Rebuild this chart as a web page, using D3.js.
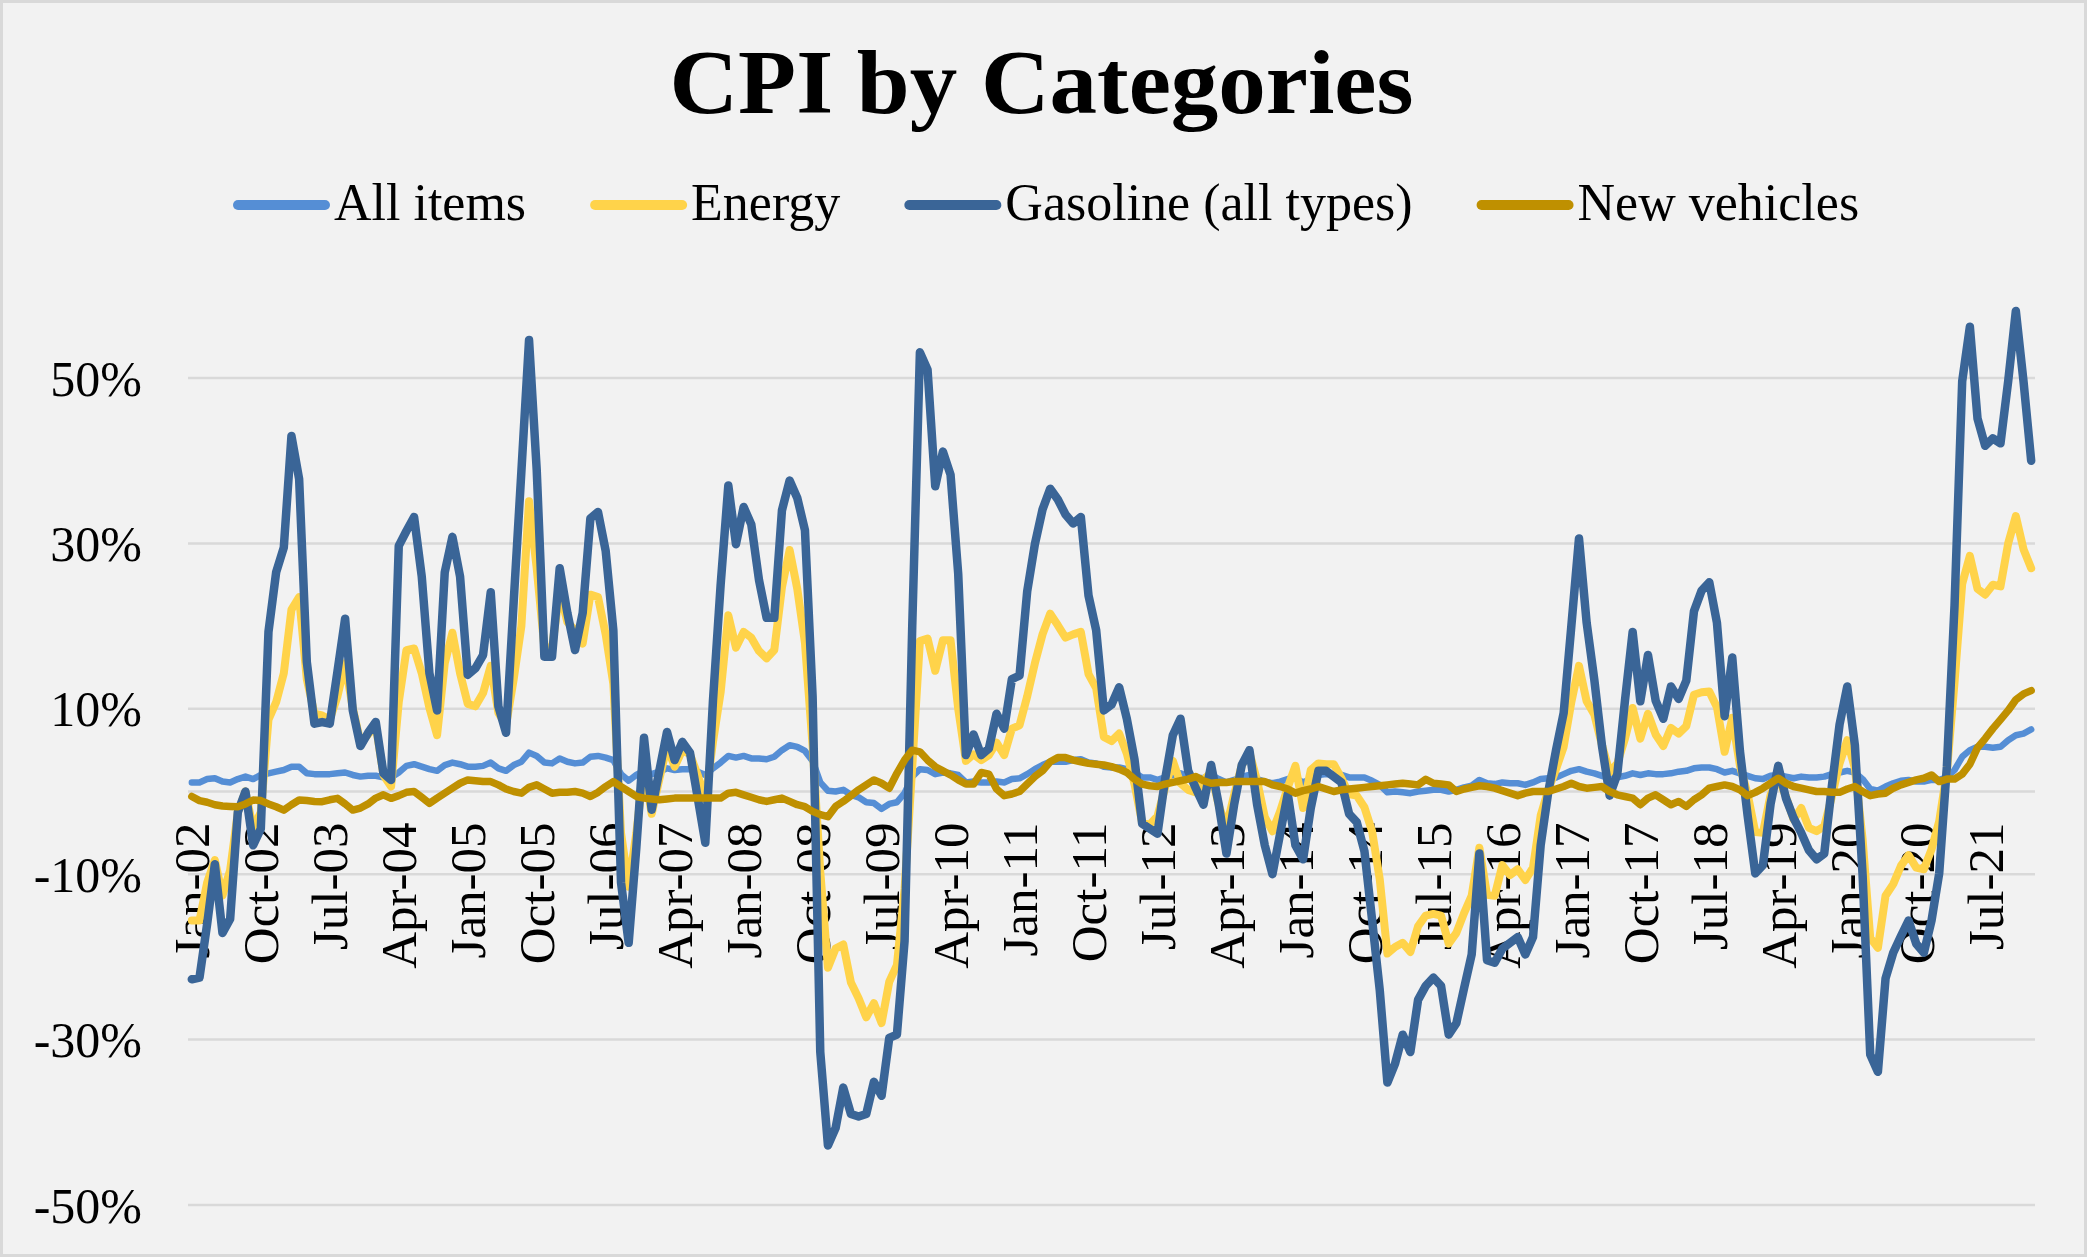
<!DOCTYPE html>
<html><head><meta charset="utf-8">
<script src="https://cdn.jsdelivr.net/npm/d3@7"></script>
<style>html,body{margin:0;padding:0;background:#F2F2F2;} svg{display:block;}</style>
</head><body>
<script>
// ---------- DATA ----------
const monthNames = ["Jan","Feb","Mar","Apr","May","Jun","Jul","Aug","Sep","Oct","Nov","Dec"];
const years = ["02","03","04","05","06","07","08","09","10","11","12","13","14","15","16","17","18","19","20","21","22"];
const categories = [];
years.forEach(yy => monthNames.forEach(m => { if (categories.length < 241) categories.push(m + "-" + yy); }));

const tickLabels = ["Jan-02","Oct-02","Jul-03","Apr-04","Jan-05","Oct-05","Jul-06","Apr-07","Jan-08","Oct-08",
  "Jul-09","Apr-10","Jan-11","Oct-11","Jul-12","Apr-13","Jan-14","Oct-14","Jul-15","Apr-16","Jan-17","Oct-17",
  "Jul-18","Apr-19","Jan-20","Oct-20","Jul-21"];
const yTicks = [-0.5, -0.3, -0.1, 0.1, 0.3, 0.5];
const seriesNames = ["All items", "Energy", "Gasoline (all types)", "New vehicles"];
const seriesColors = ["#558ED5", "#FFD34A", "#3A6597", "#BF9000"];

// year-over-year % change, Jan-02 .. Jan-22
const allItems = [
  1.1,1.1,1.5,1.6,1.2,1.1,1.5,1.8,1.5,2.0,2.2,2.4,
  2.6,3.0,3.0,2.2,2.1,2.1,2.1,2.2,2.3,2.0,1.8,1.9,
  1.9,1.7,1.7,2.3,3.1,3.3,3.0,2.7,2.5,3.2,3.5,3.3,
  3.0,3.0,3.1,3.5,2.8,2.5,3.2,3.6,4.7,4.3,3.5,3.4,
  4.0,3.6,3.4,3.5,4.2,4.3,4.1,3.8,2.1,1.3,2.0,2.5,
  2.1,2.4,2.8,2.6,2.7,2.7,2.4,2.0,2.8,3.5,4.3,4.1,
  4.3,4.0,4.0,3.9,4.2,5.0,5.6,5.4,4.9,3.7,1.1,0.1,
  0.0,0.2,-0.4,-0.7,-1.3,-1.4,-2.1,-1.5,-1.3,-0.2,1.8,2.7,
  2.6,2.1,2.3,2.2,2.0,1.1,1.2,1.1,1.1,1.2,1.1,1.5,
  1.6,2.1,2.7,3.2,3.6,3.6,3.6,3.8,3.9,3.5,3.4,3.0,
  2.9,2.9,2.7,2.3,1.7,1.7,1.4,1.7,2.0,2.2,1.8,1.7,
  1.6,2.0,1.5,1.1,1.4,1.8,2.0,1.5,1.2,1.0,1.2,1.5,
  1.6,1.1,1.5,2.0,2.1,2.1,2.0,1.7,1.7,1.7,1.3,0.8,
  -0.1,0.0,-0.1,-0.2,0.0,0.1,0.2,0.2,0.0,0.2,0.5,0.7,
  1.4,1.0,0.9,1.1,1.0,1.0,0.8,1.1,1.5,1.6,1.7,2.1,
  2.5,2.7,2.4,2.2,1.9,1.6,1.7,1.9,2.2,2.0,2.2,2.1,
  2.1,2.2,2.4,2.5,2.8,2.9,2.9,2.7,2.3,2.5,2.2,1.9,
  1.6,1.5,1.9,2.0,1.8,1.6,1.8,1.7,1.7,1.8,2.1,2.3,
  2.5,2.3,1.5,0.3,0.1,0.6,1.0,1.3,1.4,1.2,1.2,1.4,
  1.4,1.7,2.6,4.2,5.0,5.4,5.4,5.3,5.4,6.2,6.8,7.0,
  7.5];

const energy = [
  -15.6,-15.6,-11,-8.3,-12.6,-9.5,-2.5,0,-4.5,-2.5,8.7,10.8,
  14.3,22,23.5,13.6,9.4,9.2,8.7,11.5,15.5,10.1,5.9,6.9,
  8,2,0.6,10.8,17.1,17.3,14.3,10.1,6.8,15.5,19.2,14.3,
  10.6,10.3,11.9,15.2,9.5,8,13.6,20,35.1,27,17.4,17.4,
  24.3,20.5,19.5,17.9,23.8,23.5,19,13,-5,-11.5,-5,3,
  -2.7,1.5,5.5,3,5,4.5,2,-1,6,12,21.3,17.4,
  19.3,18.6,17,16.1,17.1,24.7,29.2,24.5,18,5.5,-9.7,-21.3,
  -19,-18.5,-23.1,-25,-27.3,-25.6,-28,-23,-21,-11.8,3,18.2,
  18.5,14.6,18.3,18.3,10,3.7,4.5,3.8,4.4,5.9,4.4,7.6,
  8,11.5,15.5,19,21.5,20.1,18.6,19,19.3,14.2,12.5,6.6,
  6.1,7,4.6,0.9,-3.8,-4,-3,0.5,3.7,1,0.2,-0.1,
  1.4,2.3,-1.7,-4.3,-0.4,3.2,4.7,1.3,-3.1,-4.8,-2.4,0.5,
  3.1,-2,2.6,3.4,3.3,3.3,1.6,-0.3,-0.5,-1.9,-4.8,-10.6,
  -19.6,-18.8,-18.3,-19.4,-16.3,-15,-14.8,-15,-18.4,-17.1,-14.7,-12.6,
  -6.8,-12.5,-12.6,-8.9,-10.1,-9.4,-10.7,-9.2,-2.9,0.2,2.7,5.4,
  10.8,15.2,10.9,9.3,5.6,2.3,3.4,6.4,10.1,6.4,9.4,6.9,
  5.5,7.7,7,7.9,11.7,12,12.1,10.2,4.8,8.9,3.1,-0.3,
  -4.9,-5,-0.4,1.7,-0.6,-3.4,-2,-4.4,-4.8,-4.2,-0.6,3.4,
  6.2,2.8,-5.7,-17.7,-18.9,-12.6,-11.2,-9,-7.7,-9.2,-9.4,-7,
  -3.6,2.4,13.2,25.1,28.5,24.5,23.8,25,24.8,30,33.3,29.3,
  27];

const gasoline = [
  -22.7,-22.5,-16,-8.8,-17.1,-15.4,-2.5,0,-6.5,-4.5,19.3,26.5,
  29.5,43,37.8,15.7,8.2,8.4,8.2,14.5,20.9,9.8,5.5,7.1,
  8.4,2.2,1.4,29.7,31.5,33.2,26,14.3,9.8,26.5,30.8,26,
  14.1,14.9,16.5,24.1,10.3,7.1,23,38.7,54.6,38.9,16.3,16.3,
  27,21.6,17.1,21.6,33,33.8,29.1,19.5,-11,-18.3,-6.8,6.5,
  -2.2,2.5,7.2,3.8,6,4.7,-0.7,-6.2,11,25,37,29.9,
  34.4,32.3,25.6,21,21,34,37.6,35.5,31.6,11.5,-31.5,-42.8,
  -40.7,-35.8,-39,-39.3,-39,-35.1,-36.8,-29.8,-29.4,-18.1,20,53.1,
  51,36.9,41.1,38.3,26.3,4.4,6.9,4.4,5.2,9.4,7.6,13.6,
  14,24.2,29.9,34.1,36.6,35.3,33.5,32.4,33.2,23.7,19.5,9.8,
  10.5,12.6,8.8,3.9,-3.9,-4.5,-5.1,1.5,6.8,8.8,2.5,0.4,
  -1.6,3.2,-1.6,-7.5,-1.6,3.2,5,-1.6,-6.5,-10,-5.1,-0.3,
  -6.5,-8.2,-2,2.5,2.5,1.8,1.1,-2.7,-3.7,-7.2,-15.5,-24,
  -35.2,-32.9,-29.4,-31.5,-25.2,-23.5,-22.5,-23.5,-29.4,-28,-23.8,-19.7,
  -7.5,-20.4,-20.7,-19,-18.3,-17.6,-19.7,-17.6,-6.5,0,5,9.5,
  20,30.6,20.4,13.5,5.5,-0.5,2.1,11,19.3,10.9,16.5,11,
  8.8,12.7,11.2,13.4,21.8,24.3,25.3,20.4,9.1,16.2,4.9,-2.9,
  -9.9,-8.9,-1.5,3.1,-0.8,-3.2,-5,-7.1,-8.2,-7.5,0.7,8.1,
  12.7,5.6,-10,-31.8,-33.9,-22.6,-19.5,-17.5,-15.6,-18.4,-19.5,-15.6,
  -9.9,3,22.5,49.6,56.2,45.1,41.8,42.7,42.1,49.6,58.1,49.6,
  40.0];

const newVehicles = [
  -0.6,-1.1,-1.3,-1.6,-1.75,-1.8,-1.84,-1.5,-1.03,-1.1,-1.5,-1.84,
  -2.25,-1.6,-1.03,-1.1,-1.2,-1.23,-1.0,-0.83,-1.5,-2.25,-2.0,-1.5,
  -0.8,-0.4,-0.83,-0.5,-0.1,0,-0.7,-1.43,-0.8,-0.2,0.4,1.0,
  1.4,1.3,1.2,1.2,0.8,0.3,0,-0.2,0.5,0.8,0.3,-0.2,
  -0.1,-0.1,0,-0.2,-0.6,-0.1,0.6,1.2,0.6,0,-0.6,-0.8,
  -0.9,-1.0,-0.9,-0.8,-0.8,-0.8,-0.8,-0.8,-0.8,-0.8,-0.2,-0.1,
  -0.4,-0.7,-1.0,-1.2,-1.0,-0.8,-1.2,-1.6,-1.84,-2.4,-2.8,-3.04,
  -1.8,-1.2,-0.5,0.2,0.8,1.4,1.0,0.4,2.2,3.8,5.0,4.8,
  3.8,3.0,2.5,2.0,1.4,0.9,0.9,2.3,2.1,0.3,-0.5,-0.3,
  0,0.9,1.8,2.5,3.6,4.1,4.1,3.8,3.6,3.4,3.3,3.2,
  3.0,2.7,2.3,1.5,0.9,0.7,0.6,0.9,1.1,1.3,1.5,1.8,
  1.3,1.0,1.1,1.1,1.2,1.2,1.2,1.2,1.2,0.8,0.6,0.3,
  -0.2,0.1,0.3,0.6,0.3,0,0.2,0.3,0.4,0.5,0.6,0.7,
  0.8,0.9,1.0,0.9,0.8,1.47,1.0,0.9,0.8,0,0.3,0.5,
  0.7,0.6,0.4,0.1,-0.2,-0.5,-0.2,0,0,0,0.3,0.6,
  1.0,0.6,0.4,0.5,0.6,0,-0.4,-0.6,-0.8,-1.6,-0.8,-0.4,
  -1.0,-1.6,-1.2,-1.8,-1.0,-0.4,0.4,0.6,0.8,0.6,0.2,-0.5,
  -0.1,0.4,1.0,1.6,1.0,0.6,0.4,0.2,0,0,-0.1,-0.1,
  0.3,0.6,0,-0.5,-0.3,-0.2,0.4,0.8,1.1,1.4,1.6,2.0,
  1.2,1.5,1.5,2.1,3.3,5.3,6.4,7.6,8.7,9.8,11.1,11.8,
  12.2];

const seriesValues = [allItems, energy, gasoline, newVehicles];
const seriesWidths = [6.5, 8, 8.5, 7.5];

// ---------- CHART ----------
const W = 2087, H = 1257;
const FONT = "'Liberation Serif', 'Times New Roman', serif";
const svg = d3.select("body").append("svg").attr("width", W).attr("height", H);
svg.append("rect").attr("x", 1.5).attr("y", 1.5).attr("width", W - 3).attr("height", H - 3)
  .attr("fill", "#F2F2F2").attr("stroke", "#D9D9D9").attr("stroke-width", 3);

const plot = { left: 188, right: 2035, top: 295.3, bottom: 1205 };
const x = d3.scaleBand().domain(categories).range([plot.left, plot.right]).paddingInner(0).paddingOuter(0);
const bw = x.bandwidth();
const y = d3.scaleLinear().domain([-0.5, 0.6]).range([plot.bottom, plot.top]);

// gridlines (+ zero axis line)
svg.append("g").selectAll("line").data(yTicks.concat([0])).join("line")
  .attr("x1", plot.left).attr("x2", plot.right)
  .attr("y1", d => y(d)).attr("y2", d => y(d))
  .attr("stroke", "#D9D9D9").attr("stroke-width", 2.5);

// y axis labels
const fmt = d3.format(".0%");
const yAxis = svg.append("g").attr("transform", `translate(${plot.left},0)`)
  .call(d3.axisLeft(y).tickValues(yTicks).tickSize(0).tickPadding(46)
    .tickFormat(d => fmt(d).replace("\u2212", "-")));
yAxis.select(".domain").remove();
yAxis.selectAll("text").attr("font-family", FONT).attr("font-size", 50).attr("fill", "#000")
  .attr("dy", "0.34em");

// x axis labels (rotated, hanging below the zero line)
const xAxis = svg.append("g").attr("transform", `translate(0,${y(0)})`)
  .call(d3.axisBottom(x).tickValues(tickLabels).tickSize(0));
xAxis.select(".domain").remove();
xAxis.selectAll("text")
  .attr("font-family", FONT).attr("font-size", 51).attr("fill", "#000")
  .attr("transform", "rotate(-90)")
  .attr("x", -31).attr("y", 0).attr("dy", "0.34em")
  .style("text-anchor", "end");

// series lines
const line = d3.line().x((d, i) => x(categories[i]) + bw / 2).y(d => y(d / 100));
svg.append("g").selectAll("path").data(seriesValues).join("path")
  .attr("d", d => line(d))
  .attr("fill", "none")
  .attr("stroke", (d, i) => seriesColors[i])
  .attr("stroke-width", (d, i) => seriesWidths[i])
  .attr("stroke-linejoin", "round").attr("stroke-linecap", "round");

// title
const title = svg.append("text").attr("x", 1041.5).attr("y", 113)
  .attr("text-anchor", "middle").attr("font-family", FONT).attr("font-weight", "bold")
  .attr("font-size", 90).attr("fill", "#000").text("CPI by Categories");
const tl = title.node().getComputedTextLength();
if (Math.abs(tl - 744) > 6) title.attr("textLength", 744).attr("lengthAdjust", "spacingAndGlyphs");

// legend
const legend = svg.append("g");
let lx = 233;
seriesNames.forEach((name, i) => {
  legend.append("line").attr("x1", lx + 5).attr("x2", lx + 92).attr("y1", 205).attr("y2", 205)
    .attr("stroke", seriesColors[i]).attr("stroke-width", 10).attr("stroke-linecap", "round");
  const t = legend.append("text").attr("x", lx + 101).attr("y", 220)
    .attr("font-family", FONT).attr("font-size", 52).attr("fill", "#000").text(name);
  lx = lx + 101 + t.node().getComputedTextLength() + 64;
});
</script>
</body></html>
